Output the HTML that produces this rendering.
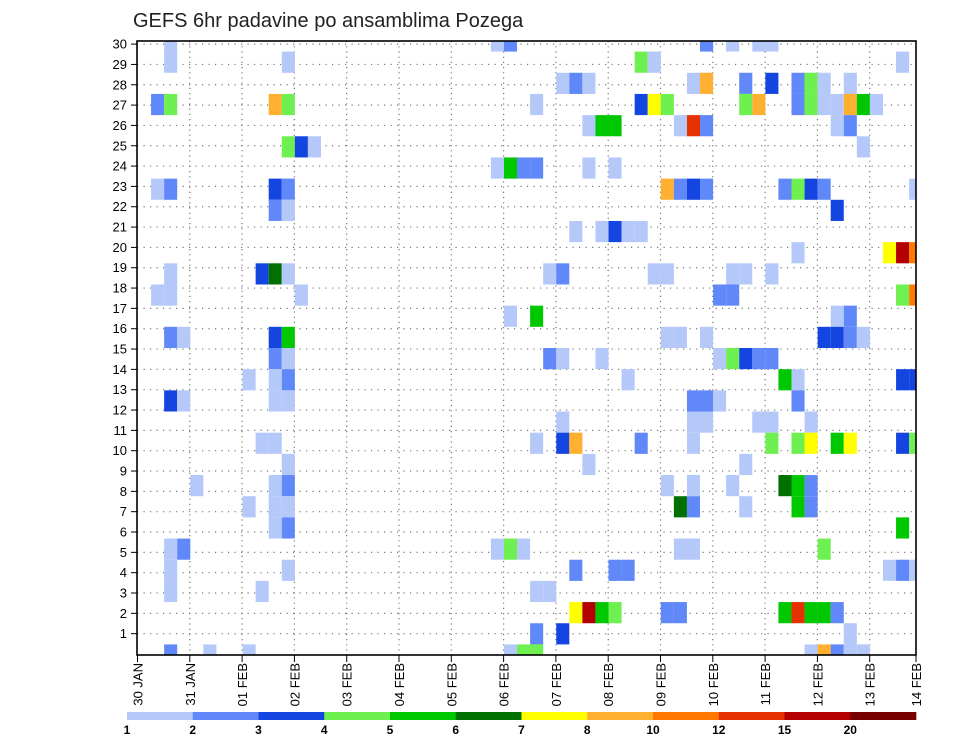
<!DOCTYPE html>
<html><head><meta charset="utf-8"><style>
html,body{margin:0;padding:0;background:#fff;}
svg{display:block;font-family:"Liberation Sans",sans-serif;}
</style></head><body>
<svg id="chart" width="960" height="742" viewBox="0 0 960 742" xmlns="http://www.w3.org/2000/svg">
<defs><clipPath id="pc"><rect x="137" y="41" width="779" height="614"/></clipPath></defs>
<text x="133" y="27" font-size="20" fill="#222">GEFS 6hr padavine po ansamblima Pozega</text>
<g id="grid"></g>
<g id="cells" clip-path="url(#pc)"></g>
<rect x="137" y="41" width="779" height="614" fill="none" stroke="#000" stroke-width="1.6"/>
<g id="yaxis"></g>
<g id="xaxis"></g>
<g id="legend"></g>
</svg>
<script>
// ---- data ----
const dayLabels=["30 JAN","31 JAN","01 FEB","02 FEB","03 FEB","04 FEB","05 FEB","06 FEB","07 FEB","08 FEB","09 FEB","10 FEB","11 FEB","12 FEB","13 FEB","14 FEB"];
const memberTicks=[1,2,3,4,5,6,7,8,9,10,11,12,13,14,15,16,17,18,19,20,21,22,23,24,25,26,27,28,29,30];
const levelBounds=[1,2,3,4,5,6,7,8,10,12,15,20];
const levelColors=["#b4c8fa","#6088f8","#1445e0","#6ef050","#00c800","#007000","#ffff00","#ffb030","#ff7800","#e63200","#b40000","#780000"];
// value codes: L=1.5 M=2.5 B=3.5 G=4.5 g=5.5 DG=6.5 Y=7.5 O=9 OR=11 R=13.5 DR=17
const cellMember=[
30,30,30,30,30,30,30,
29,29,29,29,29,
28,28,28,28,28,28,28,28,28,28,28,
27,27,27,27,27,27,27,27,27,27,27,27,27,27,27,27,27,
26,26,26,26,26,26,26,26,
25,25,25,25,
24,24,24,24,24,24,
23,23,23,23,23,23,23,23,23,23,23,23,23,
22,22,22,
21,21,21,21,21,
20,20,20,20,
19,19,19,19,19,19,19,19,19,19,19,
18,18,18,18,18,18,18,
17,17,17,17,
16,16,16,16,16,16,16,16,16,16,16,
15,15,15,15,15,15,15,15,15,15,
14,14,14,14,14,14,14,14,
13,13,13,13,13,13,13,13,
12,12,12,12,12,12,
11,11,11,11,11,11,11,11,11,11,11,11,11,11,
10,10,10,
9,9,9,9,9,9,9,9,9,
8,8,8,8,8,8,8,8,
7,7,7,
6,6,6,6,6,6,6,6,
5,5,5,5,5,5,5,5,
4,4,4,4,
3,3,3,3,3,3,3,3,3,3,3,
2,2,2,
1,1,1,1,1,1,1,1,1,1,1];
const cellStep=[
2,27,28,43,45,47,48,
2,11,38,39,58,
32,33,34,42,43,46,48,50,51,52,54,
1,2,10,11,30,38,39,40,46,47,50,51,52,53,54,55,56,
34,35,36,41,42,43,53,54,
11,12,13,55,
27,28,29,30,34,36,
1,2,10,11,40,41,42,43,49,50,51,52,59,
10,11,53,
33,35,36,37,38,
50,57,58,59,
2,9,10,11,31,32,39,40,45,46,48,
1,2,12,44,45,58,59,
28,30,53,54,
2,3,10,11,40,41,43,52,53,54,55,
10,11,31,32,35,44,45,46,47,48,
8,10,11,37,49,50,58,59,
2,3,10,11,42,43,44,50,
32,42,43,47,48,51,
9,10,30,32,33,38,42,48,50,51,53,54,58,59,
11,34,46,
4,10,11,40,42,45,49,50,51,
8,10,11,41,42,46,50,51,
10,11,58,
2,3,27,28,29,41,42,52,
2,11,33,36,37,57,58,59,
2,9,30,31,
33,34,35,36,40,41,49,50,51,52,53,
30,32,54,
2,5,8,28,29,30,51,52,53,54,55];
const cellValue=[
1.5,1.5,2.5,2.5,1.5,1.5,1.5,
1.5,1.5,4.5,1.5,1.5,
1.5,2.5,1.5,1.5,9,2.5,3.5,2.5,4.5,1.5,1.5,
2.5,4.5,9,4.5,1.5,3.5,7.5,4.5,4.5,9,2.5,4.5,1.5,1.5,9,5.5,1.5,
1.5,5.5,5.5,1.5,13.5,2.5,1.5,2.5,
4.5,3.5,1.5,1.5,
1.5,5.5,2.5,2.5,1.5,1.5,
1.5,2.5,3.5,2.5,9,2.5,3.5,2.5,2.5,4.5,3.5,2.5,1.5,
2.5,1.5,3.5,
1.5,1.5,3.5,1.5,1.5,
1.5,7.5,17,11,
1.5,3.5,6.5,1.5,1.5,2.5,1.5,1.5,1.5,1.5,1.5,
1.5,1.5,1.5,2.5,2.5,4.5,11,
1.5,5.5,1.5,2.5,
2.5,1.5,3.5,5.5,1.5,1.5,1.5,3.5,3.5,2.5,1.5,
2.5,1.5,2.5,1.5,1.5,1.5,4.5,3.5,2.5,2.5,
1.5,1.5,2.5,1.5,5.5,1.5,3.5,3.5,
3.5,1.5,1.5,1.5,2.5,2.5,1.5,2.5,
1.5,1.5,1.5,1.5,1.5,1.5,
1.5,1.5,1.5,3.5,9,2.5,1.5,4.5,4.5,7.5,5.5,7.5,3.5,4.5,
1.5,1.5,1.5,
1.5,1.5,2.5,1.5,1.5,1.5,6.5,5.5,2.5,
1.5,1.5,1.5,6.5,2.5,1.5,5.5,2.5,
1.5,2.5,5.5,
1.5,2.5,1.5,4.5,1.5,1.5,1.5,4.5,
1.5,1.5,2.5,2.5,2.5,1.5,2.5,1.5,
1.5,1.5,1.5,1.5,
7.5,17,5.5,4.5,2.5,2.5,5.5,13.5,5.5,5.5,2.5,
2.5,3.5,1.5,
2.5,1.5,1.5,1.5,4.5,4.5,1.5,9,2.5,1.5,1.5];

// ---- scales ----
const NS="http://www.w3.org/2000/svg";
const X0=138, CW=13.07;            // cell geometry (6-hr steps)
const ROW_H=614/29;                 // member rows
function xCell(step){return X0+step*CW;}
function yMember(m){return 655-(m-1)*ROW_H;}
function yTick(v){return 654-v*20.33;}
function xDay(i){return 137.5+i*52.3;}
function colorFor(v){let idx=0;for(let i=0;i<levelBounds.length;i++){if(v>=levelBounds[i])idx=i;}return levelColors[idx];}
function mk(tag,attrs,parent){const e=document.createElementNS(NS,tag);for(const k in attrs)e.setAttribute(k,attrs[k]);parent.appendChild(e);return e;}

// grid
const grid=document.getElementById('grid');
memberTicks.forEach(v=>{
  const l=mk('line',{x1:137,x2:916,y1:yTick(v),y2:yTick(v),stroke:'#777','stroke-width':1.2,'stroke-dasharray':'1.2,5.3'},grid);
  
  
});
for(let i=1;i<15;i++){
  const l=mk('line',{x1:xDay(i),x2:xDay(i),y1:41,y2:655,stroke:'#777','stroke-width':1.2,'stroke-dasharray':'1.2,4'},grid);
  
  
}

// cells
const cg=document.getElementById('cells');
for(let i=0;i<cellValue.length;i++){
  const r=mk('rect',{x:xCell(cellStep[i]),y:yMember(cellMember[i])-ROW_H/2,width:CW,height:ROW_H,fill:colorFor(cellValue[i])},cg);
  
  
}

// y axis
const ya=document.getElementById('yaxis');
memberTicks.forEach(v=>{
  const y=yTick(v);
  const t=mk('line',{x1:131,x2:137,y1:y,y2:y,stroke:'#000','stroke-width':1},ya);
  
  
  const tx=mk('text',{x:127,y:y+4.5,'font-size':13,'text-anchor':'end',fill:'#000'},ya);
  tx.textContent=v;
  
  
});

// x axis
const xa=document.getElementById('xaxis');
dayLabels.forEach((d,i)=>{
  const x=i===15?916:xDay(i);
  const t=mk('line',{x1:x,x2:x,y1:655,y2:662,stroke:'#000','stroke-width':1},xa);
  
  
  const tx=mk('text',{x:0,y:0,'font-size':13,'text-anchor':'end',fill:'#000',transform:'translate('+(x+5)+',663) rotate(-90)'},xa);
  tx.textContent=d;
  
  
});

// colorbar
const lg=document.getElementById('legend');
const segW=(916-127)/levelColors.length;
levelColors.forEach((c,i)=>{
  const r=mk('rect',{x:127+i*segW,y:712,width:segW+0.3,height:8,fill:c},lg);
  
  
});
levelBounds.forEach((b,i)=>{
  const tx=mk('text',{x:127+i*segW,y:734,'font-size':12,'font-weight':'bold','text-anchor':'middle',fill:'#000'},lg);
  tx.textContent=b;
  
  
});
</script>
</body></html>
